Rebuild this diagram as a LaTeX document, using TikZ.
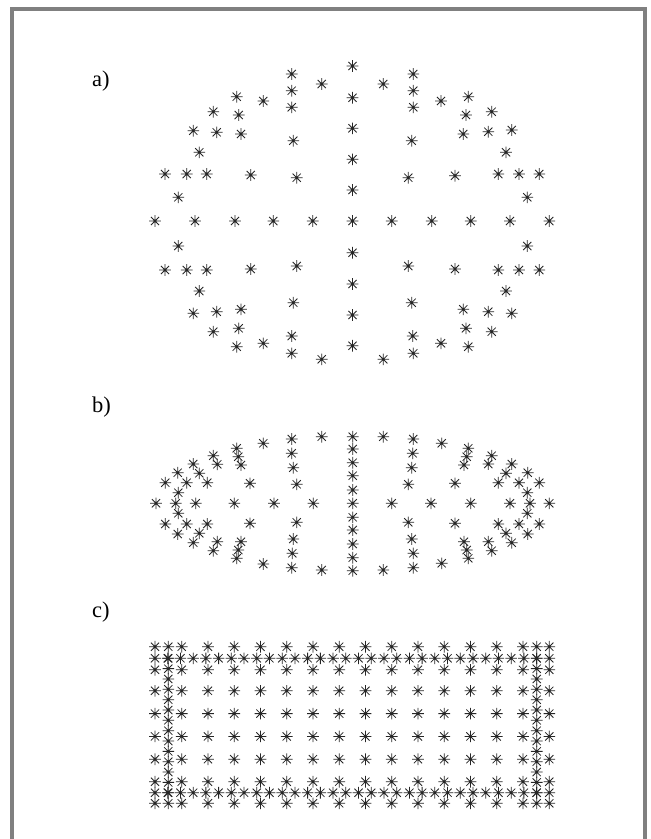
\documentclass[tikz,border=0pt]{standalone}
\usepackage{fontspec}
\setmainfont{Liberation Serif}
\begin{document}
\begin{tikzpicture}[x=1pt,y=-1pt,
  astline/.style={line width=0.8pt,black!85},
  ast/.pic={\draw[astline] (-5.8,0)--(5.8,0) (0,-5.8)--(0,5.8) (-4.1,-4.1)--(4.1,4.1) (-4.1,4.1)--(4.1,-4.1);},
  lbl/.style={anchor=base west,inner sep=0pt,font=\fontsize{22.5}{22.5}\selectfont}]
\useasboundingbox (0,0) rectangle (651,839);
\fill[white] (0,0) rectangle (651,839);
\draw[line width=4pt,gray] (12,850) -- (12,9) -- (645,9) -- (645,850);
% labels
\node[lbl] (la) at (92,86) {a)};
\node[lbl] (lb) at (92,412) {b)};
\node[lbl] (lc) at (92,617) {c)};
% panel a
\foreach \x/\y in {352.5/66,291.7/74,413.3/74,321.7/84,383.3/84,291.7/90.7,413.3/90.7,352.5/97.7,
236.7/96.7,468.3/96.7,263.3/101,441/101,291.7/107.3,413.3/107.3,213.3/111.7,491.7/111.7,
238.7/115,466/115,352.5/128.3,193.3/130.7,511.7/130,216.7/132.3,488.3/131.7,241/134,463.3/134,
293.3/140.7,411.7/140.7,199.3/152.3,506/152.3,352.5/159.3,
165/174,186.7/174,206.7/174,498.3/174,519/174,539.3/174,250.7/175,455/175.7,296.7/177.7,408.3/177.7,
352.5/190,178.3/197.3,527.3/197.3,
155/221,195/221,235/221,273.3/221,312.7/221,352.5/221,391.7/221,431.7/221,470.7/221,510/221,549.3/221,
178.3/246,527.3/246,352.5/252.7,296.7/266,408.3/266,250.7/269,455/269,
165/270,186.7/270,206.7/270,498.3/270,519/270,539.3/270,352.5/284,199.3/291,506/291,
293.3/302.7,411.7/302.7,241/309.3,463.3/309.3,216.7/311.7,488.3/311.7,193.3/313.3,511.7/313.3,
352.5/315,238.7/328.3,466/328.3,213.3/331.7,491.7/331.7,291.7/336,412.7/336,263.3/343.3,441/343.3,
352.5/345.7,236.7/346.7,468.3/346.7,291.7/353.3,413.3/353.3,321.7/359.3,383.3/359.3}
  \pic at (\x,\y) {ast};
% panel b
\foreach \y in {436.7,449,462.7,475.7,490,503.3,517.3,530,544,557.7,570.7}
  \pic at (352.7,\y) {ast};
\foreach \x/\y in {321.7/436.7,383.3/436.7,321.7/570,383.3/570,291.7/439,413.3/439,263.3/443.3,441.7/443.3,
291.7/453.3,412.7/453.3,236.7/448.3,468.3/448.3,238.3/456.7,466.7/456.7,241/465,464/465,
213.3/455.7,491.7/455.7,217.3/464.3,488.3/464,193.3/464,511.7/464,199.3/473.3,506/473.3,
177.7/472.7,527.7/472.7,293.3/467.7,411.7/467.7,
165.3/482.7,186.7/482.7,207.3/482.7,498.3/482.7,519/482.7,539.3/482.7,250/483.3,455/483.3,
296.7/484.3,408.3/484.3,178.3/492.7,527.3/492.7,
156/503.3,175.7/503.3,195.7/503.3,234.3/503.3,274/503.3,313.3/503.3,391.7/503.3,431/503.3,470.7/503.3,510/503.3,530/503.3,549.3/503.3,
178.3/513.3,527.3/513.3,165.3/524,186.7/524,207.3/524,498.3/524,519/524,539.3/524,
250/523.3,455/523.3,296.7/522.3,408.3/522.3,177.7/534,199.3/533.3,506/533.3,527.7/534,
193.3/542.7,217.3/541.7,488.3/541.7,511.7/542.7,213.3/550.7,491.7/550.7,
241/541.7,238.3/550,236.7/558.3,464/541.7,466.7/550,468.3/558.3,
293.3/539,411.7/539,292.3/553.3,413.3/553.3,263.3/564,441.7/563.3,291.7/567.7,413.3/567.7}
  \pic at (\x,\y) {ast};
% panel c
\foreach \k in {0,...,31} {
  \pic at ({155+12.72*\k},658.3) {ast};
  \pic at ({155+12.72*\k},792.7) {ast};
}
\foreach \k in {0,...,13} {
  \pic at (168.3,{658.3+10.34*\k}) {ast};
  \pic at (536.7,{658.3+10.34*\k}) {ast};
}
\foreach \y in {646.7,803.3} {
  \foreach \x in {155,168.3,536.7,549.3} \pic at (\x,\y) {ast};
  \foreach \k in {0,...,13} \pic at ({181.7+26.25*\k},\y) {ast};
}
\foreach \y in {669.8,781.7,690.8,713.6,736.4,759.2} {
  \foreach \x in {155,549.3} \pic at (\x,\y) {ast};
  \foreach \k in {0,...,13} \pic at ({181.7+26.25*\k},\y) {ast};
}
\end{tikzpicture}
\end{document}
